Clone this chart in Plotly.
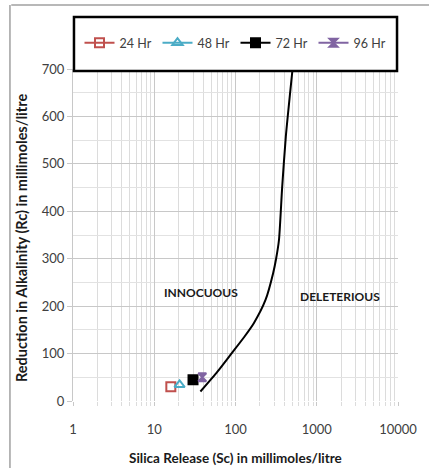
import plotly.graph_objects as go

# Limit curve (separating innocuous / deleterious)
curve_x = [37, 60, 90, 128, 168, 234, 291, 316, 343, 375, 416, 504]
curve_y = [20, 62, 101, 135, 164, 213, 270, 300, 340, 450, 557, 700]

# Test results
series_names = ["24 Hr", "48 Hr", "72 Hr", "96 Hr"]
series_x = [16, 20.5, 30, 39]
series_y = [30, 34, 45, 50]
series_colors = ["#C0504D", "#4BACC6", "#000000", "#8064A2"]
series_symbols = ["square-open", "triangle-up-open", "square", "hourglass"]

x_tickvals = [1, 10, 100, 1000, 10000]
x_ticktext = ["1", "10", "100", "1000", "10000"]

FONT = "Lato, 'Open Sans', sans-serif"

fig = go.Figure()

fig.add_trace(go.Scatter(x=curve_x, y=curve_y, mode="lines",
                         line=dict(color="#000000", width=2, shape="spline", smoothing=0.6),
                         showlegend=False, hoverinfo="skip"))

for name, x, y, c, s in zip(series_names, series_x, series_y, series_colors, series_symbols):
    fig.add_trace(go.Scatter(
        x=[x], y=[y], mode="lines+markers", name=name,
        line=dict(color=c, width=2),
        marker=dict(symbol=s, size=9 if s != "hourglass" else 8, color=c,
                    line=dict(color=c, width=2)),
    ))

fig.add_annotation(x=1.577, y=228, xref="x", yref="y", text="<b>INNOCUOUS</b>",
                   showarrow=False, font=dict(size=12, color="#1a1a1a", family=FONT))
fig.add_annotation(x=3.29, y=221, xref="x", yref="y", text="<b>DELETERIOUS</b>",
                   showarrow=False, font=dict(size=12, color="#1a1a1a", family=FONT))

fig.add_annotation(x=0.5, y=-0.172, xref="paper", yref="paper",
                   text="<b>Silica Release (Sc) in millimoles/litre</b>",
                   showarrow=False, font=dict(size=13.5, color="#1a1a1a", family=FONT),
                   xanchor="center", yanchor="middle")
fig.add_annotation(x=-0.158, y=0.49, xref="paper", yref="paper",
                   text="<b>Reduction in Alkalinity (Rc) in millimoles/litre</b>",
                   textangle=-90, showarrow=False,
                   font=dict(size=14.5, color="#1a1a1a", family=FONT),
                   xanchor="center", yanchor="middle")

# legend box
fig.add_shape(type="rect", xref="paper", yref="paper",
              x0=0.003, x1=0.997, y0=0.994, y1=1.157,
              line=dict(color="#000000", width=2.5), fillcolor="white", layer="above")
# outer chart border
fig.add_shape(type="line", xref="paper", yref="paper", x0=-0.19, x1=1.1,
              y0=1.193, y1=1.193, line=dict(color="#a0a0a0", width=1.5))
fig.add_shape(type="line", xref="paper", yref="paper", x0=-0.194, x1=-0.194,
              y0=1.193, y1=-0.3, line=dict(color="#a0a0a0", width=1.5))

fig.update_layout(
    width=429, height=468,
    margin=dict(l=73, r=20, t=69, b=67),
    paper_bgcolor="white", plot_bgcolor="white",
    font=dict(family=FONT, size=13, color="#404040"),
    legend=dict(orientation="h", x=0.5, xanchor="center", y=1.078, yanchor="middle",
                bgcolor="rgba(0,0,0,0)", font=dict(size=12.5, color="#404040"),
                itemwidth=30, entrywidth=33, tracegroupgap=0),
    xaxis=dict(type="log", range=[0, 4], tickvals=x_tickvals, ticktext=x_ticktext,
               showgrid=True, gridcolor="#c8c8c8", gridwidth=1,
               ticks="outside", ticklen=4, tickcolor="#c8c8c8",
               minor=dict(dtick="D1", showgrid=True, gridcolor="#dcdcdc", gridwidth=1,
                          ticks="outside", ticklen=4, tickcolor="#dcdcdc"),
               showline=False, zeroline=False, tickfont=dict(size=13, color="#404040"),
               ticklabelstandoff=12),
    yaxis=dict(range=[0, 700], dtick=100, showgrid=True, gridcolor="#c8c8c8", gridwidth=1,
               ticks="outside", ticklen=5, tickcolor="#c8c8c8",
               minor=dict(dtick=50, showgrid=True, gridcolor="#e2e2e2", gridwidth=1),
               showline=True, linecolor="#c8c8c8", zeroline=False,
               tickfont=dict(size=13, color="#404040")),
    showlegend=True,
)

fig.write_html("out.html")
